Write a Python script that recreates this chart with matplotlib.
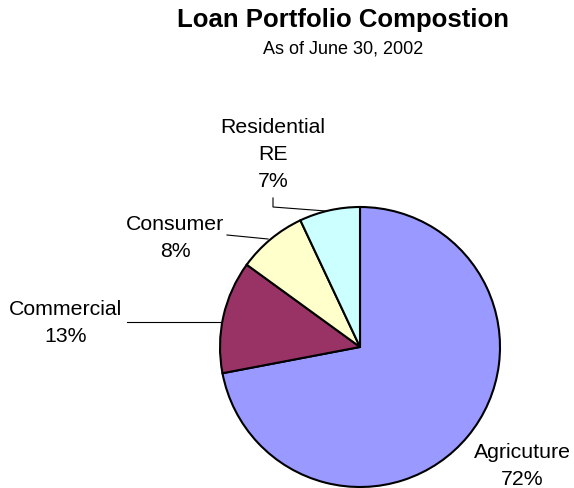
import matplotlib
matplotlib.use("Agg")
import matplotlib.pyplot as plt

categories = ["Agricuture", "Commercial", "Consumer", "Residential\nRE"]
values = [72, 13, 8, 7]
colors = ["#9999FF", "#993366", "#FFFFCC", "#CCFFFF"]

plt.rcParams['font.family'] = ['Liberation Sans', 'DejaVu Sans']

W, H = 574, 488
fig = plt.figure(figsize=(W / 100, H / 100), dpi=100)

# pie geometry in pixels (from top-left)
cx, cy, R = 360, 347, 140
ax = fig.add_axes([(cx - R) / W, (H - cy - R) / H, 2 * R / W, 2 * R / H])
ax.pie(values, colors=colors, startangle=90, counterclock=False,
       wedgeprops=dict(edgecolor="black", linewidth=1.5))
ax.set_xlim(-1, 1)
ax.set_ylim(-1, 1)
ax.set_aspect("equal")
ax.axis("off")


def to_fig(px, py):
    return px / W, 1 - py / H


def to_data(px, py):
    return (px - cx) / R, (cy - py) / R


# label centre x and baseline of the percent line (pixels), and leader lines
label_pos = [(522, 485), (66, 342), (175, 257), (273, 187)]
leaders = [None,
           [(127, 322), (220, 322)],
           [(227, 235), (268, 239)],
           [(273, 198), (273, 207), (326, 211)]]
pitch = 27

for name, v, (px, py), line in zip(categories, values, label_pos, leaders):
    lines = name.split("\n") + [f"{v}%"]
    for k, s in enumerate(reversed(lines)):
        fig.text(*to_fig(px, py - k * pitch), s, ha="center", va="baseline",
                 fontsize=15.3)
    if line:
        pts = [to_data(*p) for p in line]
        ax.plot([p[0] for p in pts], [p[1] for p in pts], color="black",
                lw=0.8, clip_on=False)

fig.text(*to_fig(343, 27), "Loan Portfolio Compostion", ha="center",
         va="baseline", fontsize=18.5, fontweight="bold")
fig.text(*to_fig(343, 54), "As of June 30, 2002", ha="center",
         va="baseline", fontsize=13)

fig.savefig("out.png", dpi=100)
